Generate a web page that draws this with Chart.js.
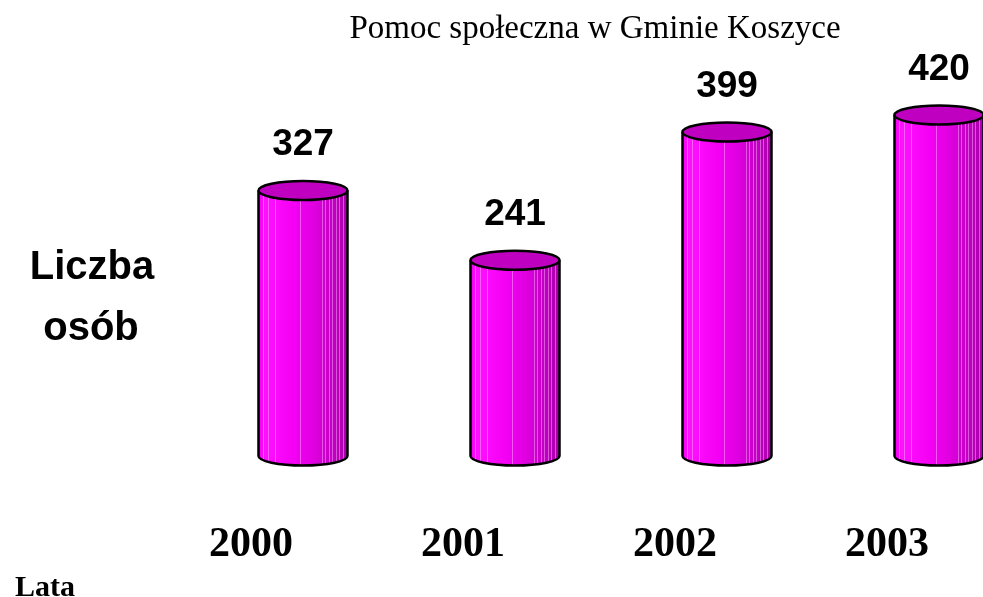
<!DOCTYPE html>
<html>
<head>
<meta charset="utf-8">
<script src="https://cdn.jsdelivr.net/npm/chart.js@4/dist/chart.umd.min.js"></script>
<style>
  html, body { margin: 0; padding: 0; background: #fff; }
  #wrap { width: 983px; height: 597px; position: relative; }
</style>
</head>
<body>
<div id="wrap"><canvas id="c" width="983" height="597"></canvas></div>
<script>
// ---- data ----
const titleText = 'Pomoc społeczna w Gminie Koszyce';
const years = ['2000', '2001', '2002', '2003'];
const values = [327, 241, 399, 420];
const yAxisLabelLines = ['Liczba', 'osób'];
const xAxisLabel = 'Lata';

const cylinderPlugin = {
  id: 'cylinders',
  afterDatasetsDraw(chart) {
    const ctx = chart.ctx;
    const meta = chart.getDatasetMeta(0);
    meta.data.forEach((bar, i) => {
      const x = bar.x, top = bar.y, base = bar.base, w = bar.width;
      const rx = w / 2, ry = 9.5;
      const l = x - rx, r = x + rx;
      ctx.save();
      const g = ctx.createLinearGradient(l, 0, r, 0);
      g.addColorStop(0, '#F400F4');
      g.addColorStop(0.08, '#FF10FF');
      g.addColorStop(0.4, '#F400F4');
      g.addColorStop(0.62, '#E000E0');
      g.addColorStop(0.85, '#C000C0');
      g.addColorStop(1, '#A800A8');
      ctx.beginPath();
      ctx.moveTo(l, top);
      ctx.lineTo(l, base);
      ctx.ellipse(x, base, rx, ry, 0, Math.PI, 0, true);
      ctx.lineTo(r, top);
      ctx.closePath();
      ctx.fillStyle = g;
      ctx.fill();
      ctx.save();
      ctx.clip();
      ctx.strokeStyle = 'rgba(255,190,255,0.45)';
      ctx.lineWidth = 1;
      [0.05, 0.11, 0.19, 0.47, 0.71, 0.75, 0.79, 0.83, 0.87, 0.91, 0.95].forEach(f => {
        const sx = Math.round(l + f * w) + 0.5;
        ctx.beginPath();
        ctx.moveTo(sx, top);
        ctx.lineTo(sx, base + ry + 2);
        ctx.stroke();
      });
      ctx.restore();
      ctx.strokeStyle = '#000';
      ctx.lineWidth = 2.5;
      ctx.beginPath();
      ctx.moveTo(l, top);
      ctx.lineTo(l, base);
      ctx.ellipse(x, base, rx, ry, 0, Math.PI, 0, true);
      ctx.lineTo(r, top);
      ctx.stroke();
      ctx.beginPath();
      ctx.ellipse(x, top, rx, ry, 0, 0, Math.PI * 2);
      ctx.fillStyle = '#C000C0';
      ctx.fill();
      ctx.stroke();
      ctx.fillStyle = '#000';
      ctx.font = 'bold 37px "Liberation Sans", Arial, sans-serif';
      ctx.textAlign = 'center';
      ctx.textBaseline = 'alphabetic';
      ctx.fillText(String(values[i]), x, top - 35);
      ctx.restore();
    });
  },
  afterDraw(chart) {
    const ctx = chart.ctx;
    ctx.save();
    ctx.fillStyle = '#000';
    ctx.textBaseline = 'alphabetic';
    ctx.textAlign = 'center';
    ctx.font = '33px "Liberation Serif", "Times New Roman", serif';
    ctx.fillText(titleText, 595, 38);
    ctx.font = 'bold 40px "Liberation Sans", Arial, sans-serif';
    ctx.fillText(yAxisLabelLines[0], 92, 279);
    ctx.fillText(yAxisLabelLines[1], 91, 340);
    ctx.textAlign = 'left';
    ctx.font = 'bold 30px "Liberation Serif", "Times New Roman", serif';
    ctx.fillText(xAxisLabel, 15, 596);
    ctx.restore();
  }
};

new Chart(document.getElementById('c'), {
  type: 'bar',
  data: {
    labels: years,
    datasets: [{
      data: values,
      backgroundColor: 'rgba(0,0,0,0)',
      borderWidth: 0,
      barThickness: 89,
      clip: false
    }]
  },
  options: {
    responsive: false,
    animation: false,
    devicePixelRatio: 1,
    layout: { padding: { left: 303, right: 44, top: 50, bottom: 0 } },
    plugins: { legend: { display: false }, tooltip: { enabled: false }, title: { display: false } },
    scales: {
      x: {
        type: 'category',
        offset: false,
        grid: { display: false, drawTicks: true, tickLength: 64, offset: false },
        border: { display: false },
        afterFit: (scale) => { scale.height = 141; scale.paddingLeft = 0; scale.paddingRight = 0; },
        ticks: {
          color: '#000',
          padding: 0,
          labelOffset: -52,
          maxRotation: 0,
          autoSkip: false,
          font: { family: '"Liberation Serif", "Times New Roman", serif', size: 42, weight: 'bold' }
        }
      },
      y: {
        display: false,
        min: 0,
        max: 500
      }
    }
  },
  plugins: [cylinderPlugin]
});
</script>
</body>
</html>
